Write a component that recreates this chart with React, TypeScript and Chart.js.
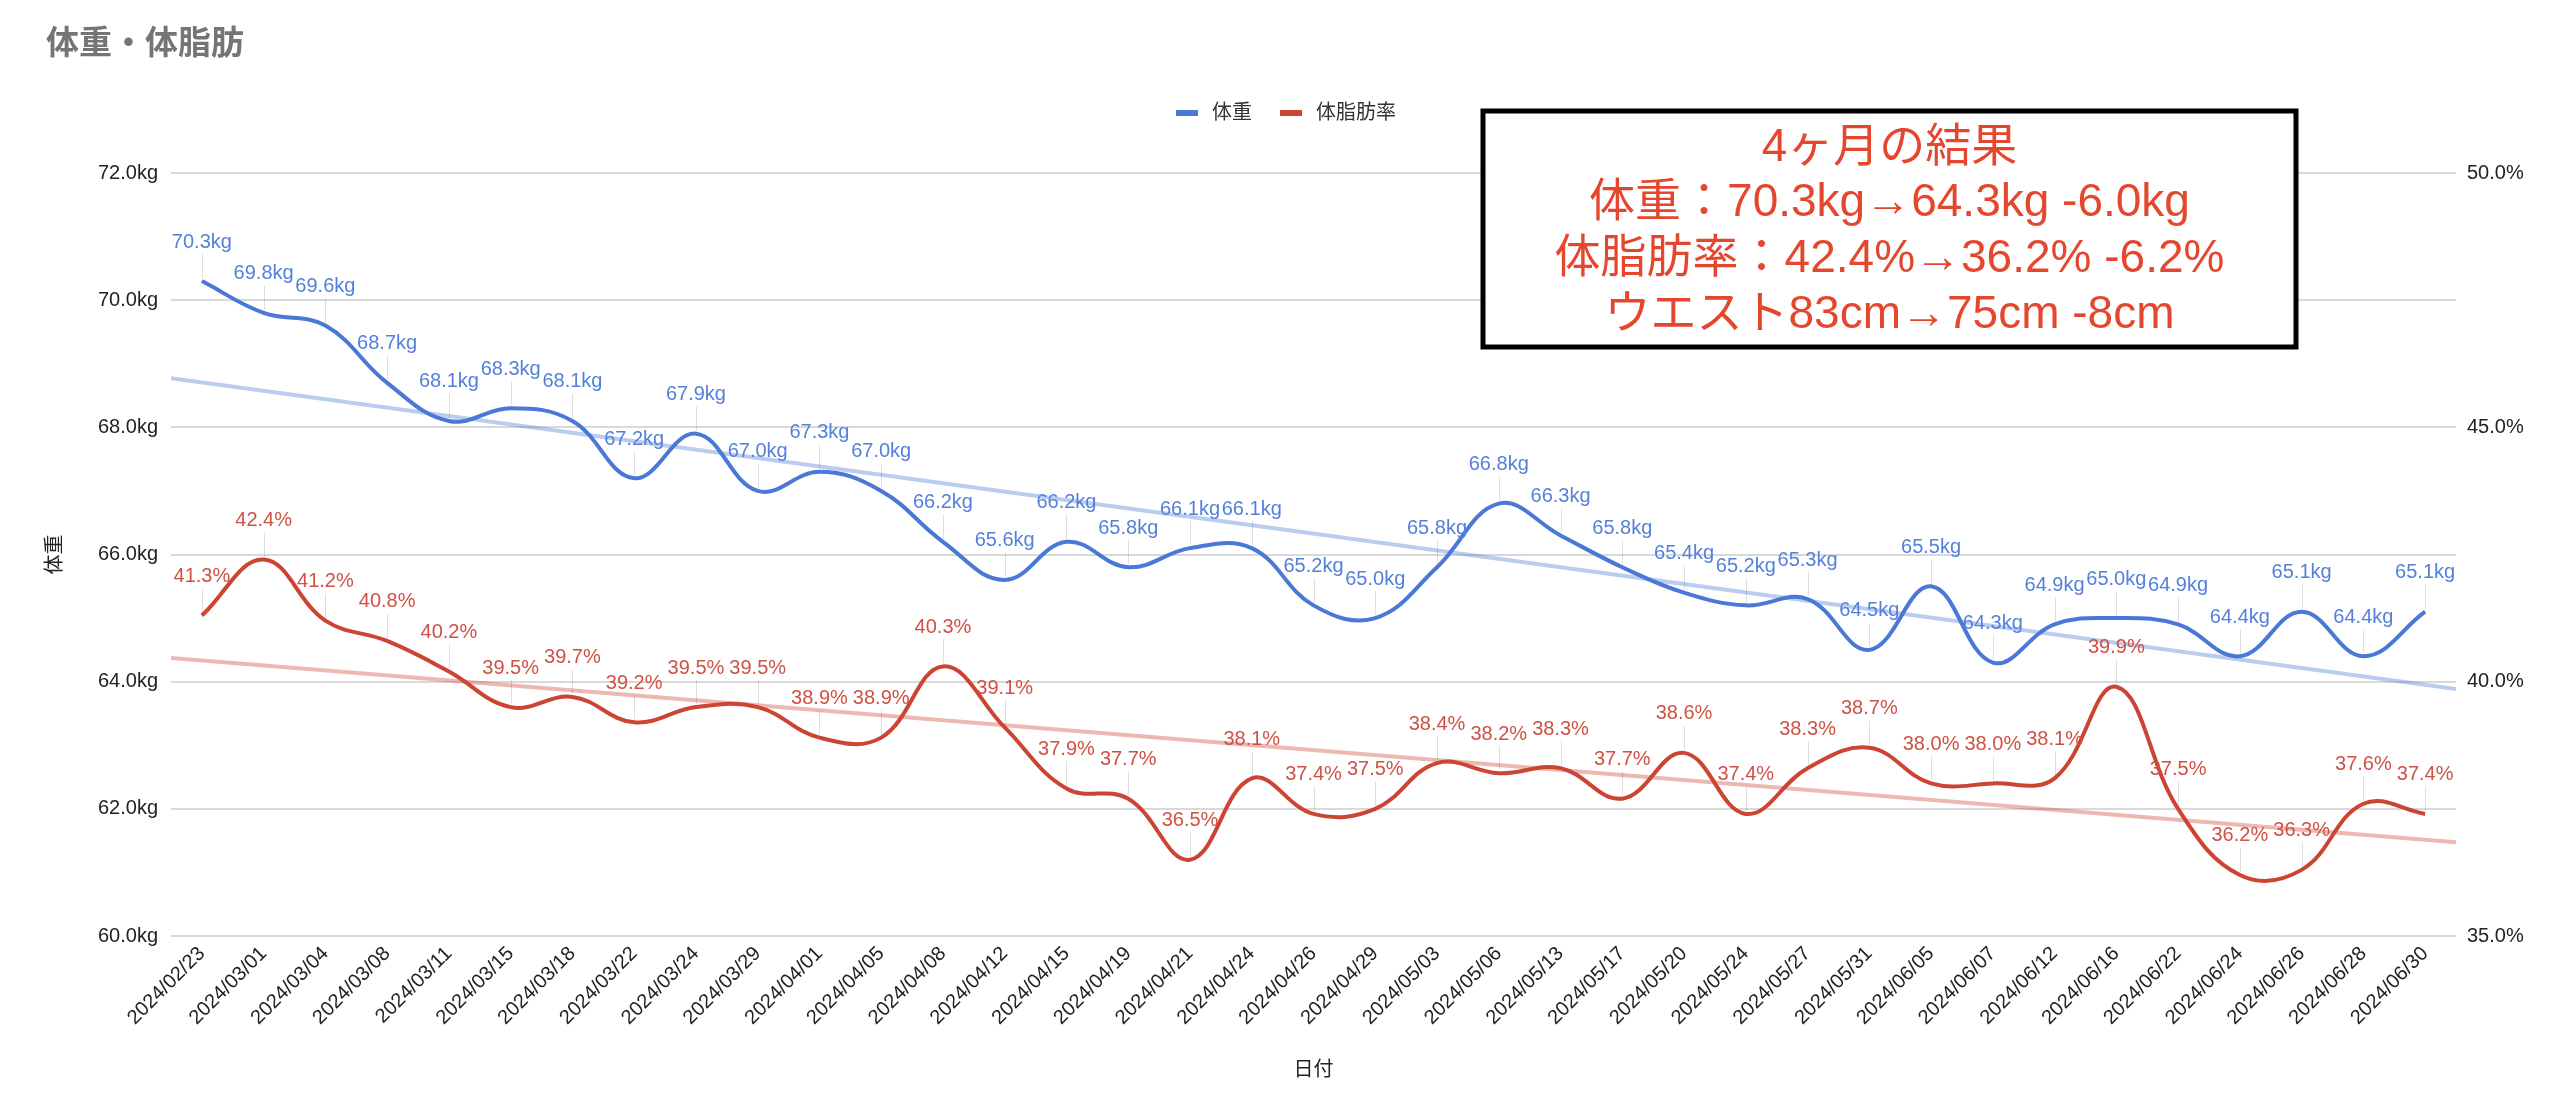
import React, { useEffect, useRef } from "react";
import { Chart, registerables } from "chart.js";

Chart.register(...registerables);

const categories = [
  "2024/02/23", "2024/03/01", "2024/03/04", "2024/03/08", "2024/03/11", "2024/03/15",
  "2024/03/18", "2024/03/22", "2024/03/24", "2024/03/29", "2024/04/01", "2024/04/05",
  "2024/04/08", "2024/04/12", "2024/04/15", "2024/04/19", "2024/04/21", "2024/04/24",
  "2024/04/26", "2024/04/29", "2024/05/03", "2024/05/06", "2024/05/13", "2024/05/17",
  "2024/05/20", "2024/05/24", "2024/05/27", "2024/05/31", "2024/06/05", "2024/06/07",
  "2024/06/12", "2024/06/16", "2024/06/22", "2024/06/24", "2024/06/26", "2024/06/28",
  "2024/06/30",
];

const weight = [
  70.3, 69.8, 69.6, 68.7, 68.1, 68.3, 68.1, 67.2, 67.9, 67.0, 67.3, 67.0,
  66.2, 65.6, 66.2, 65.8, 66.1, 66.1, 65.2, 65.0, 65.8, 66.8, 66.3, 65.8,
  65.4, 65.2, 65.3, 64.5, 65.5, 64.3, 64.9, 65.0, 64.9, 64.4, 65.1, 64.4,
  65.1,
];

const bodyFat = [
  41.3, 42.4, 41.2, 40.8, 40.2, 39.5, 39.7, 39.2, 39.5, 39.5, 38.9, 38.9,
  40.3, 39.1, 37.9, 37.7, 36.5, 38.1, 37.4, 37.5, 38.4, 38.2, 38.3, 37.7,
  38.6, 37.4, 38.3, 38.7, 38.0, 38.0, 38.1, 39.9, 37.5, 36.2, 36.3, 37.6,
  37.4,
];

const seriesNames = ["体重", "体脂肪率"];
const chartTitle = "体重・体脂肪";
const xTitle = "日付";
const yTitle = "体重";
const noteLines = [
  "4ヶ月の結果",
  "体重：70.3kg→64.3kg -6.0kg",
  "体脂肪率：42.4%→36.2% -6.2%",
  "ウエスト83cm→75cm -8cm",
];

const BLUE = "#4a78d6";
const RED = "#cc4433";
const BLUE_LABEL = "#5580da";
const RED_LABEL = "#cf5145";
const BLUE_TREND = "rgba(74,120,214,0.38)";
const RED_TREND = "rgba(204,68,51,0.38)";
const FONT = '"Liberation Sans", Arial, "Noto Sans CJK JP", sans-serif';

function regression(vals: number[]) {
  const n = vals.length;
  let sx = 0, sy = 0;
  vals.forEach((v, i) => { sx += i; sy += v; });
  const mx = sx / n, my = sy / n;
  let num = 0, den = 0;
  vals.forEach((v, i) => { num += (i - mx) * (v - my); den += (i - mx) * (i - mx); });
  const slope = num / den;
  return { slope, intercept: my - slope * mx };
}

const decorPlugin = {
  id: "decor",
  beforeDatasetsDraw(chart: any) {
    const { ctx, chartArea } = chart;
    const x = chart.scales.x;
    const n = categories.length;
    const trends = [
      { vals: weight, axis: "y", color: BLUE_TREND },
      { vals: bodyFat, axis: "y1", color: RED_TREND },
    ];
    ctx.save();
    ctx.beginPath();
    ctx.rect(chartArea.left, chartArea.top, chartArea.right - chartArea.left, chartArea.bottom - chartArea.top);
    ctx.clip();
    trends.forEach((t) => {
      const r = regression(t.vals);
      const ys = chart.scales[t.axis];
      const x0 = -0.5, x1 = n - 0.5;
      ctx.beginPath();
      ctx.strokeStyle = t.color;
      ctx.lineWidth = 4;
      ctx.moveTo(x.getPixelForValue(x0), ys.getPixelForValue(r.intercept + r.slope * x0));
      ctx.lineTo(x.getPixelForValue(x1), ys.getPixelForValue(r.intercept + r.slope * x1));
      ctx.stroke();
    });
    ctx.restore();
    // leader lines
    ctx.save();
    ctx.strokeStyle = "rgba(0,0,0,0.13)";
    ctx.lineWidth = 1;
    [0, 1].forEach((di) => {
      const meta = chart.getDatasetMeta(di);
      meta.data.forEach((el: any) => {
        ctx.beginPath();
        ctx.moveTo(Math.round(el.x) + 0.5, el.y - 27);
        ctx.lineTo(Math.round(el.x) + 0.5, el.y - 3);
        ctx.stroke();
      });
    });
    ctx.restore();
  },
  afterDatasetsDraw(chart: any) {
    const { ctx } = chart;
    ctx.save();
    ctx.font = `20px ${FONT}`;
    ctx.textAlign = "center";
    ctx.textBaseline = "middle";
    const cfg = [
      { vals: weight, color: BLUE_LABEL, fmt: (v: number) => v.toFixed(1) + "kg" },
      { vals: bodyFat, color: RED_LABEL, fmt: (v: number) => v.toFixed(1) + "%" },
    ];
    cfg.forEach((c, di) => {
      const meta = chart.getDatasetMeta(di);
      ctx.fillStyle = c.color;
      meta.data.forEach((el: any, i: number) => {
        ctx.fillText(c.fmt(c.vals[i]), el.x, el.y - 39);
      });
    });
    ctx.restore();
  },
  afterDraw(chart: any) {
    const { ctx } = chart;
    ctx.save();
    // title
    ctx.font = `bold 33px ${FONT}`;
    ctx.fillStyle = "#757575";
    ctx.textAlign = "left";
    ctx.textBaseline = "middle";
    ctx.fillText(chartTitle, 46, 45);
    // legend
    ctx.font = `20px ${FONT}`;
    ctx.fillStyle = "#333333";
    const colors = [BLUE, RED];
    const widths = seriesNames.map((s) => ctx.measureText(s).width);
    const itemW = widths.map((w) => 22 + 14 + w);
    const gap = 28;
    const total = itemW[0] + gap + itemW[1];
    let lx = 1286 - total / 2;
    seriesNames.forEach((s, i) => {
      ctx.fillStyle = colors[i];
      ctx.fillRect(lx, 110, 22, 6);
      ctx.fillStyle = "#333333";
      ctx.fillText(s, lx + 36, 113);
      lx += itemW[i] + gap;
    });
    // note box
    const bx = 1483, by = 111, bw = 813, bh = 236;
    ctx.fillStyle = "#ffffff";
    ctx.fillRect(bx, by, bw, bh);
    ctx.strokeStyle = "#000000";
    ctx.lineWidth = 5;
    ctx.strokeRect(bx, by, bw, bh);
    ctx.font = `46px ${FONT}`;
    ctx.fillStyle = "#e5472e";
    ctx.textAlign = "center";
    noteLines.forEach((l, i) => {
      ctx.fillText(l, bx + bw / 2, 148 + i * 55.7);
    });
    ctx.restore();
  },
};

export default function App() {
  const ref = useRef<HTMLCanvasElement | null>(null);
  useEffect(() => {
    document.body.style.margin = "0";
    Chart.defaults.font.family = FONT;
    const chart = new Chart(ref.current as HTMLCanvasElement, {
      type: "line",
      data: {
        labels: categories,
        datasets: [
          {
            label: seriesNames[0],
            data: weight,
            yAxisID: "y",
            borderColor: BLUE,
            backgroundColor: BLUE,
            borderWidth: 4,
            pointRadius: 0,
            tension: 0.4,
          },
          {
            label: seriesNames[1],
            data: bodyFat,
            yAxisID: "y1",
            borderColor: RED,
            backgroundColor: RED,
            borderWidth: 4,
            pointRadius: 0,
            tension: 0.4,
          },
        ],
      },
      options: {
        animation: false,
        responsive: true,
        maintainAspectRatio: false,
        layout: { padding: { top: 173, left: 0, right: 0, bottom: 0 } },
        plugins: {
          legend: { display: false },
          title: { display: false },
          tooltip: { enabled: false },
        },
        scales: {
          x: {
            type: "category",
            offset: true,
            grid: { display: false, drawTicks: false },
            border: { display: false },
            ticks: {
              autoSkip: false,
              minRotation: 45,
              maxRotation: 45,
              padding: 6,
              color: "#222222",
              font: { size: 20, family: FONT },
            },
            title: {
              display: true,
              text: xTitle,
              color: "#222222",
              font: { size: 20, family: FONT },
              padding: { top: 4, bottom: 12 },
            },
            afterFit(scale: any) { scale.height = 158; },
          },
          y: {
            position: "left",
            min: 60,
            max: 72,
            grid: { color: "#d9d9d9", lineWidth: 2, drawTicks: false },
            border: { display: false },
            ticks: {
              stepSize: 2,
              padding: 13,
              color: "#222222",
              font: { size: 20, family: FONT },
              callback: (v: any) => Number(v).toFixed(1) + "kg",
            },
            title: {
              display: true,
              text: yTitle,
              color: "#222222",
              font: { size: 20, family: FONT },
              padding: { top: 43, bottom: 0 },
            },
            afterFit(scale: any) { scale.width = 171; },
          },
          y1: {
            position: "right",
            min: 35,
            max: 50,
            grid: { display: false, drawTicks: false },
            border: { display: false },
            ticks: {
              stepSize: 5,
              padding: 11,
              color: "#222222",
              font: { size: 20, family: FONT },
              callback: (v: any) => Number(v).toFixed(1) + "%",
            },
            afterFit(scale: any) { scale.width = 104; },
          },
        },
      },
      plugins: [decorPlugin],
    });
    return () => chart.destroy();
  }, []);
  return (
    <div style={{ width: "2560px", height: "1094px", position: "relative" }}>
      <canvas ref={ref} />
    </div>
  );
}
